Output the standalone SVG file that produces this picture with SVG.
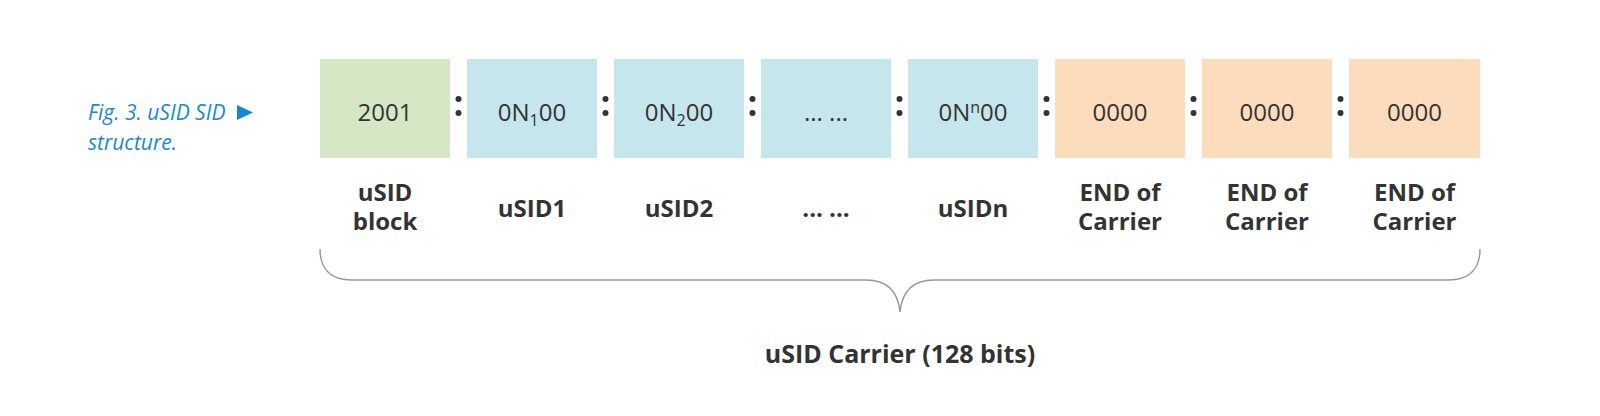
<svg xmlns="http://www.w3.org/2000/svg" width="1600" height="416" viewBox="0 0 1600 416">
<style>
.bg{fill:#ffffff}
.g{fill:#d5e8c5}
.b{fill:#c5e6ec}
.o{fill:#fddcbd}
.val{font-family:"Open Sans","Noto Sans",sans-serif;font-size:24px;fill:#333333;text-anchor:middle}
.lbl{font-family:"Open Sans","Noto Sans",sans-serif;font-size:24px;font-weight:bold;fill:#333333;text-anchor:middle}
.big{font-size:25px}
.cap{font-family:"Open Sans","Noto Sans",sans-serif;font-size:21px;font-style:italic;fill:#1a88d0}
.dot{fill:#333333}
.brace{fill:none;stroke:#9a9a9a;stroke-width:1.5}
</style>
<defs>
<g id="colon"><circle cx="0" cy="99" r="3" class="dot"/><circle cx="0" cy="113" r="3" class="dot"/></g>
</defs>
<rect class="bg" x="0" y="0" width="1600" height="416"/>
<g id="caption">
<text class="cap" x="88" y="120">Fig. 3. uSID SID<tspan x="88" y="150">structure.</tspan></text>
<polygon points="237,105 253,112.5 237,120" fill="#1a88d0"/>
</g>
<g id="node-block">
<rect class="g" x="320" y="59" width="130" height="99"/>
<text class="val" x="385" y="121">2001</text>
<text class="lbl" x="385" y="201">uSID<tspan x="385" y="230">block</tspan></text>
</g>
<g id="node-usid1">
<rect class="b" x="467" y="59" width="130" height="99"/>
<text class="val" x="532" y="121">0N<tspan font-size="16" dy="5">1</tspan><tspan dy="-5">00</tspan></text>
<text class="lbl" x="532" y="217">uSID1</text>
</g>
<g id="node-usid2">
<rect class="b" x="614" y="59" width="130" height="99"/>
<text class="val" x="679" y="121">0N<tspan font-size="16" dy="5">2</tspan><tspan dy="-5">00</tspan></text>
<text class="lbl" x="679" y="217">uSID2</text>
</g>
<g id="node-dots">
<rect class="b" x="761" y="59" width="130" height="99"/>
<text class="val" x="826" y="121">... ...</text>
<text class="lbl" x="826" y="217">... ...</text>
</g>
<g id="node-usidn">
<rect class="b" x="908" y="59" width="130" height="99"/>
<text class="val" x="973" y="121">0N<tspan font-size="16" dy="-8">n</tspan><tspan dy="8">00</tspan></text>
<text class="lbl" x="973" y="217">uSIDn</text>
</g>
<g id="node-end1">
<rect class="o" x="1055" y="59" width="130" height="99"/>
<text class="val" x="1120" y="121">0000</text>
<text class="lbl" x="1120" y="201">END of<tspan x="1120" y="230">Carrier</tspan></text>
</g>
<g id="node-end2">
<rect class="o" x="1202" y="59" width="130" height="99"/>
<text class="val" x="1267" y="121">0000</text>
<text class="lbl" x="1267" y="201">END of<tspan x="1267" y="230">Carrier</tspan></text>
</g>
<g id="node-end3">
<rect class="o" x="1349" y="59" width="131" height="99"/>
<text class="val" x="1414.5" y="121">0000</text>
<text class="lbl" x="1414.5" y="201">END of<tspan x="1414.5" y="230">Carrier</tspan></text>
</g>
<g id="connectors">
<use href="#colon" x="458.5"/>
<use href="#colon" x="605.5"/>
<use href="#colon" x="752.5"/>
<use href="#colon" x="899.5"/>
<use href="#colon" x="1046.5"/>
<use href="#colon" x="1193.5"/>
<use href="#colon" x="1340.5"/>
</g>
<g id="brace">
<path class="brace" d="M320,249 C320,268 330,280 352,280 L866,280 C888,280 898,292 900,312 C902,292 912,280 934,280 L1448,280 C1470,280 1480,268 1480,249"/>
<text class="lbl big" x="900" y="363">uSID Carrier (128 bits)</text>
</g>
</svg>
